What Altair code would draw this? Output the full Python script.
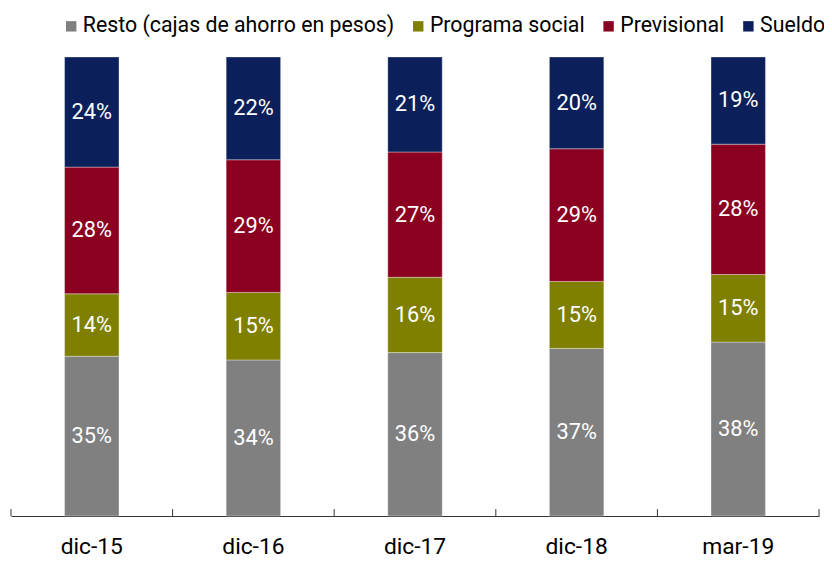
import altair as alt
import pandas as pd

categories = ["dic-15", "dic-16", "dic-17", "dic-18", "mar-19"]
series = ["Resto (cajas de ahorro en pesos)", "Programa social", "Previsional", "Sueldo"]
colors = ["#808080", "#7f7f00", "#8b0020", "#0b1f5b"]

resto = [34.8, 34.0, 35.6, 36.5, 37.9]
programa = [13.6, 14.7, 16.4, 14.6, 14.7]
previsional = [27.6, 28.9, 27.3, 28.9, 28.4]
sueldo = [24.0, 22.4, 20.7, 20.0, 19.0]

# band boundary indices for the small axis ticks (0 .. number of categories)
tick_idx = [0, 1, 2, 3, 4, 5]

rows = []
for i, c in enumerate(categories):
    for k, (s, vals) in enumerate(zip(series, [resto, programa, previsional, sueldo])):
        rows.append({"cat": c, "serie": s, "ord": k, "value": vals[i]})
df = pd.DataFrame(rows)
ticks_df = pd.DataFrame({"b": tick_idx})

W, H = 815, 463
FONT = "Roboto"
FS = 22

base = alt.Chart(df).transform_stack(
    stack="value", groupby=["cat"], as_=["y0", "y1"],
    offset="normalize", sort=[alt.SortField("ord")]
).transform_calculate(
    mid="(datum.y0 + datum.y1) / 2",
    label="format(datum.value, '.0f') + '%'"
)

xscale = alt.Scale(paddingInner=0.663, paddingOuter=0.3315)
yscale = alt.Scale(domain=[0, 1])

bars = base.mark_bar(stroke="white", strokeWidth=0.6, strokeOpacity=0.6).encode(
    x=alt.X("cat:N", sort=categories, scale=xscale, title=None,
            axis=alt.Axis(orient="bottom", domain=True, domainColor="#333333",
                          domainWidth=1, ticks=False, labelAngle=0,
                          labelFontSize=23, labelColor="black", labelFont=FONT,
                          labelPadding=38, labelBaseline="alphabetic")),
    y=alt.Y("y0:Q", scale=yscale, axis=None),
    y2="y1:Q",
    color=alt.Color("serie:N", sort=series,
                    scale=alt.Scale(domain=series, range=colors),
                    legend=alt.Legend(orient="none", legendX=50, legendY=-42,
                                      direction="horizontal", title=None,
                                      symbolType="square", symbolSize=110,
                                      symbolStrokeWidth=0, labelFontSize=21.5,
                                      labelFont=FONT, labelColor="black",
                                      labelLimit=500, columnPadding=13,
                                      labelOffset=1, padding=0)),
    order=alt.Order("ord:Q"),
)

texts = base.mark_text(color="white", fontSize=FS, font=FONT, baseline="middle").encode(
    x=alt.X("cat:N", sort=categories, scale=xscale, axis=None),
    y=alt.Y("mid:Q", scale=yscale, axis=None),
    text="label:N",
)

ticks = alt.Chart(ticks_df).mark_rule(color="#333333", strokeWidth=1).encode(
    x=alt.X("b:Q", scale=alt.Scale(domain=[0, 5], nice=False, zero=False), axis=None),
    y=alt.value(H - 7),
    y2=alt.value(H),
)

chart = alt.layer(bars, texts, ticks).resolve_scale(x="independent").properties(
    width=W, height=H,
    autosize=alt.AutoSizeParams(type="none"),
    padding={"left": 3, "top": 47, "right": 5, "bottom": 42},
).configure_view(stroke=None)

chart.save("out.html", embed_options={"renderer": "svg", "actions": False})
